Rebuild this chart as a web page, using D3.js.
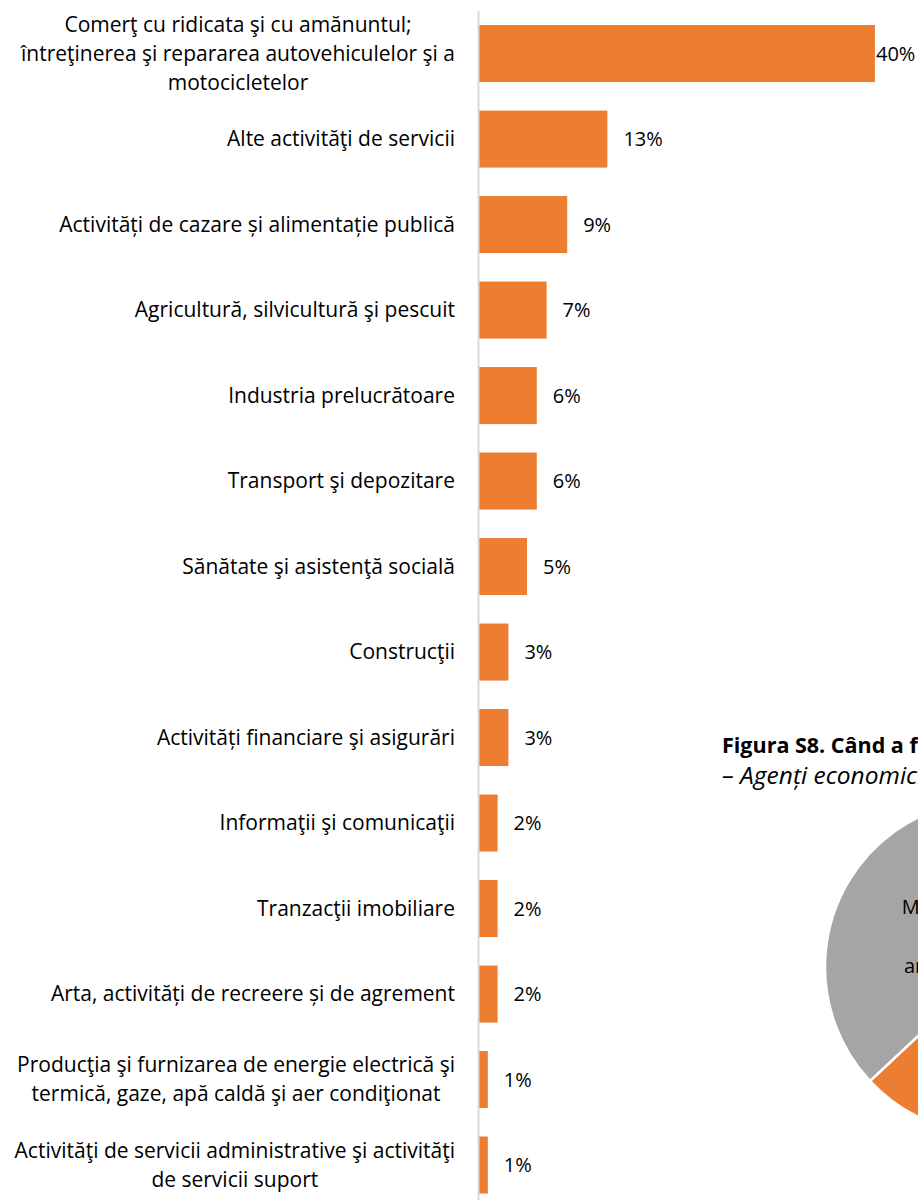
<!DOCTYPE html>
<html>
<head>
<meta charset="utf-8">
<script src="https://cdn.jsdelivr.net/npm/d3@7"></script>
<style>
  body { margin: 0; background: #fff; }
  svg { display: block; }
  text { font-family: "Open Sans", "Noto Sans", sans-serif; fill: #000; }
</style>
</head>
<body>
<svg id="chart" width="918" height="1200"></svg>
<script>
// bar chart data (top to bottom)
var categories = [
  "Comerţ cu ridicata şi cu amănuntul;\nîntreţinerea şi repararea autovehiculelor şi a\nmotocicletelor",
  "Alte activităţi de servicii",
  "Activități de cazare și alimentație publică",
  "Agricultură, silvicultură şi pescuit",
  "Industria prelucrătoare",
  "Transport şi depozitare",
  "Sănătate şi asistenţă socială",
  "Construcţii",
  "Activități financiare şi asigurări",
  "Informaţii şi comunicaţii",
  "Tranzacţii imobiliare",
  "Arta, activități de recreere și de agrement",
  "Producţia şi furnizarea de energie electrică şi\ntermică, gaze, apă caldă şi aer condiţionat",
  "Activităţi de servicii administrative şi activităţi\nde servicii suport"
]
var values = [40.4, 13.1, 9.0, 6.9, 5.9, 5.9, 4.9, 3.0, 3.0, 1.9, 1.9, 1.9, 0.9, 0.9]

// second figure, only its left part is in frame
var caption_title = "Figura S8. Când a fost înregistrată afacerea?"
var caption_sub = "– Agenți economici"
var pie_names = ["Mai mult de 5 ani", "1-5 ani", "Mai puțin de 1 an"]
var pie_values = [54, 26, 20]
var pie_colors = ["#a5a5a5", "#5b9bd5", "#ed7d31"]
var pie_label_lines = ["Mai mult", "de 5", "ani, 54%"]

var svg = d3.select("#chart")
var font_size = 21
var value_size = 20
var line_height = 29
var axis_x = 479

var x = d3.scaleLinear()
    .domain([0, 45])
    .range([axis_x, axis_x + 441])

var y = d3.scaleBand()
    .domain(categories)
    .range([10.8, 1207.8])
    .paddingInner(0.333)
    .paddingOuter(0.1667)

// bars
svg.selectAll(".bar")
    .data(values)
    .enter()
    .append("rect")
    .attr("class", "bar")
    .attr("x", x(0))
    .attr("y", function(d, i){ return y(categories[i]) })
    .attr("width", function(d){ return x(d) - x(0) })
    .attr("height", y.bandwidth())
    .attr("fill", "#ed7d31")

// value labels
svg.selectAll(".value")
    .data(values)
    .enter()
    .append("text")
    .attr("class", "value")
    .attr("x", function(d){ return Math.min(x(d) + 16, 876) })
    .attr("y", function(d, i){ return y(categories[i]) + y.bandwidth() / 2 })
    .attr("dy", "0.35em")
    .attr("font-size", value_size)
    .text(function(d){ return Math.round(d) + "%" })

// axis line
var axis = svg.append("g")
    .attr("transform", "translate(" + (axis_x - 1) + ",0)")
    .call(d3.axisLeft(y).tickSize(0).tickFormat(""))
axis.select(".domain").attr("stroke", "#d9d9d9").attr("stroke-width", 2)

// category labels, several lines centred with each other, block right aligned
var label = svg.selectAll(".cat")
    .data(categories)
    .enter()
    .append("text")
    .attr("class", "cat")
    .attr("text-anchor", "middle")
    .attr("font-size", font_size)

label.each(function(d){
  var lines = d.split("\n")
  var t = d3.select(this)
  var top = y(d) + y.bandwidth() / 2 - (lines.length - 1) * line_height / 2
  lines.forEach(function(l, j){
    t.append("tspan")
        .attr("x", 0)
        .attr("y", top + j * line_height)
        .attr("dy", "0.35em")
        .text(l)
  })
  var w = d3.max(t.selectAll("tspan").nodes(), function(n){ return n.getComputedTextLength() })
  t.selectAll("tspan").attr("x", 455 - w / 2)
})

// second figure caption
svg.append("text")
    .attr("x", 722)
    .attr("y", 753)
    .attr("font-size", 21.5)
    .attr("font-weight", "bold")
    .text(caption_title)
svg.append("text")
    .attr("x", 722)
    .attr("y", 784)
    .attr("font-size", 24.5)
    .attr("font-style", "italic")
    .text(caption_sub)

// pie, cut by the right edge
var radius = 167
var pie = d3.pie().sort(null)
    .startAngle(226.9 * Math.PI / 180)
    .endAngle((226.9 + 360) * Math.PI / 180)
var arc = d3.arc().innerRadius(0).outerRadius(radius)
var pie_g = svg.append("g").attr("transform", "translate(992,967)")
pie_g.selectAll("path")
    .data(pie(pie_values))
    .enter()
    .append("path")
    .attr("d", arc)
    .attr("fill", function(d, i){ return pie_colors[i] })
    .attr("stroke", "#fff")
    .attr("stroke-width", 2.5)

// label of the grey slice
var pie_label = pie_g.append("text")
    .attr("text-anchor", "middle")
    .attr("font-size", 20)
pie_label_lines.forEach(function(l, j){
  pie_label.append("tspan")
      .attr("x", -49)
      .attr("y", -60 + j * 29.5)
      .attr("dy", "0.35em")
      .text(l)
})
</script>
</body>
</html>
